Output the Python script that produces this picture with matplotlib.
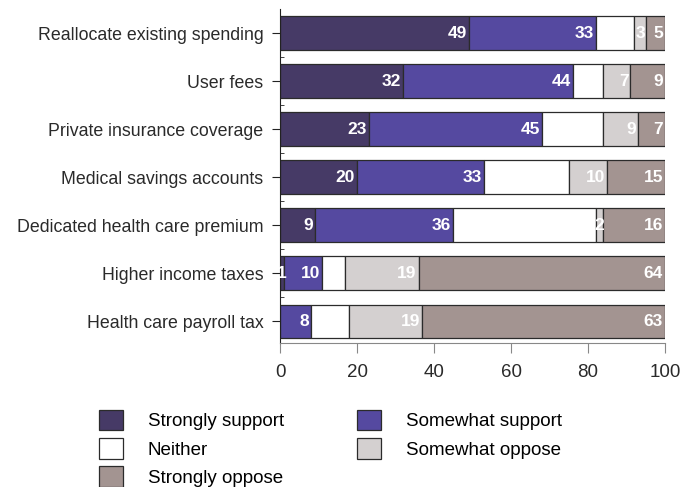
import numpy as np
import matplotlib.pyplot as plt
from matplotlib.patches import Patch

plt.rcParams['font.family'] = ['Liberation Sans', 'DejaVu Sans']

# Funding options and response shares (%)
options = ['Reallocate existing spending', 'User fees', 'Private insurance coverage',
           'Medical savings accounts', 'Dedicated health care premium',
           'Higher income taxes', 'Health care payroll tax']
strongly_support = [49, 32, 23, 20, 9, 1, 0]
somewhat_support = [33, 44, 45, 33, 36, 10, 8]
neither = [10, 8, 16, 22, 37, 6, 10]
somewhat_oppose = [3, 7, 9, 10, 2, 19, 19]
strongly_oppose = [5, 9, 7, 15, 16, 64, 63]

series = [
    ('Strongly support', strongly_support, '#463a66', True),
    ('Somewhat support', somewhat_support, '#5549a0', True),
    ('Neither', neither, '#ffffff', False),
    ('Somewhat oppose', somewhat_oppose, '#d4d0d0', True),
    ('Strongly oppose', strongly_oppose, '#a39491', True),
]

fig = plt.figure(figsize=(6.9, 4.87), dpi=100)
ax = fig.add_axes([0.4058, 0.2957, 0.5580, 0.6858])

y = np.arange(len(options))
left = np.zeros(len(options))
handles = {}
for name, vals, color, labelled in series:
    vals = np.array(vals, dtype=float)
    ax.barh(y, vals, left=left, height=0.7, color=color,
            edgecolor='#2b2b2b', linewidth=0.9)
    handles[name] = Patch(facecolor=color, edgecolor='#2b2b2b', linewidth=0.9)
    if labelled:
        for yi, l, v in zip(y, left, vals):
            if v <= 0:
                continue
            if v < 4:
                ax.text(l + v / 2, yi, f'{int(v)}', ha='center', va='center',
                        color='white', fontsize=12.5, fontweight='bold')
            else:
                ax.text(l + v - 0.5, yi, f'{int(v)}', ha='right', va='center',
                        color='white', fontsize=12.5, fontweight='bold')
    left += vals

ax.set_xlim(0, 100)
ax.set_ylim(len(options) - 0.55, -0.5)
ax.set_yticks(y)
ax.set_yticklabels(options, fontsize=12.8, color='#2a2a2a')
ax.set_yticks(np.arange(len(options) - 1) + 0.5, minor=True)
ax.set_xticks(np.arange(0, 101, 20))
ax.set_xticklabels([str(v) for v in range(0, 101, 20)], fontsize=13.5, color='#2a2a2a')

for s in ['top', 'right']:
    ax.spines[s].set_visible(False)
ax.spines['left'].set_color('#222222')
ax.spines['bottom'].set_color('#888888')
ax.tick_params(axis='y', which='major', length=6, color='#222222', pad=6)
ax.tick_params(axis='y', which='minor', length=3, direction='in', color='#222222')
ax.tick_params(axis='x', length=7, color='#888888', pad=8)

order = ['Strongly support', 'Neither', 'Strongly oppose', 'Somewhat support', 'Somewhat oppose']
fig.legend([handles[n] for n in order], order, ncol=2, frameon=False,
           loc='upper left', bbox_to_anchor=(0.13, 0.178),
           prop={'size': 13.5},
           handlelength=1.3, handleheight=1.3, handletextpad=1.3,
           columnspacing=3.9, labelspacing=0.42, borderpad=0)

fig.savefig('out.png', dpi=100)
